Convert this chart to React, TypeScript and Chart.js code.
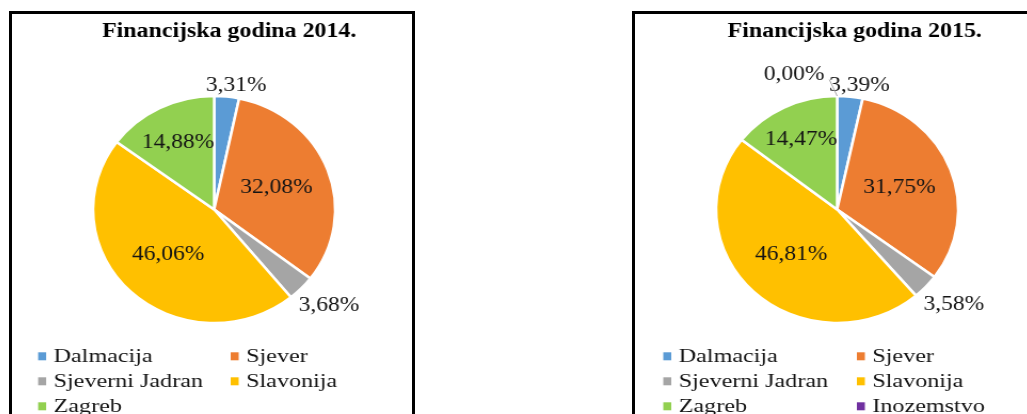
import React, { useEffect, useRef } from "react";
import { Chart, registerables } from "chart.js";

Chart.register(...registerables);

// ---- data ----
const categories2014 = ["Dalmacija", "Sjever", "Sjeverni Jadran", "Slavonija", "Zagreb"];
const values2014 = [3.31, 32.08, 3.68, 46.06, 14.88];
const categories2015 = ["Dalmacija", "Sjever", "Sjeverni Jadran", "Slavonija", "Zagreb", "Inozemstvo"];
const values2015 = [3.39, 31.75, 3.58, 46.81, 14.47, 0.0];
const title2014 = "Financijska godina 2014.";
const title2015 = "Financijska godina 2015.";
const sliceColors = ["#5B9BD5", "#ED7D31", "#A5A5A5", "#FFC000", "#92D050", "#7030A0"];

const STRETCH = 400 / 375;
const SERIF = '"Liberation Serif", "Times New Roman", serif';

function fmt(v: number) {
  return v.toFixed(2).replace(".", ",") + "%";
}

function drawText(ctx: CanvasRenderingContext2D, text: string, x: number, y: number, font: string, sx: number, align: CanvasTextAlign, baseline: CanvasTextBaseline, color: string) {
  ctx.save();
  ctx.font = font;
  ctx.fillStyle = color;
  ctx.textAlign = align;
  ctx.textBaseline = baseline;
  ctx.translate(x, y);
  ctx.scale(sx, 1);
  ctx.fillText(text, 0, 0);
  ctx.restore();
}

const customPlugin = {
  id: "customDecor",
  afterDraw(chart: any) {
    const cfg = chart.options.plugins.customDecor;
    const ctx: CanvasRenderingContext2D = chart.ctx;
    // title
    drawText(ctx, cfg.title, cfg.titleX, 22.5, "bold 20px " + SERIF, 1.12, "center", "alphabetic", "#000");

    // data labels
    const meta = chart.getDatasetMeta(0);
    const data: number[] = chart.data.datasets[0].data;
    const labelFont = "20px " + SERIF;
    const lsx = 1.1;
    meta.data.forEach((arc: any, i: number) => {
      const p = arc.getProps(["x", "y", "startAngle", "endAngle", "outerRadius"], true);
      const mid = (p.startAngle + p.endAngle) / 2;
      const dx = Math.cos(mid);
      const dy = Math.sin(mid);
      const text = fmt(data[i]);
      ctx.font = labelFont;
      const w = ctx.measureText(text).width * lsx;
      const r = p.outerRadius;
      const span = p.endAngle - p.startAngle;
      const color = "#141414";
      if (data[i] === 0) {
        const px = p.x + dx * r;
        const py = p.y + dy * r;
        const la = mid - (24 * Math.PI) / 180;
        const qx = px + Math.cos(la) * 18;
        const qy = py + Math.sin(la) * 18;
        ctx.save();
        ctx.strokeStyle = "#a6a6a6";
        ctx.lineWidth = 1;
        ctx.beginPath();
        ctx.moveTo(px, py);
        ctx.lineTo(qx, qy);
        ctx.stroke();
        ctx.restore();
        drawText(ctx, text, qx - 4.5, qy - 5, labelFont, lsx, "right", "middle", color);
      } else if (data[i] < 5) {
        const D = r + 12;
        const cx = p.x + dx * D + dx * w * 0.28 + 6;
        const cy = p.y + dy * (D + 5) + 6;
        drawText(ctx, text, cx, cy, labelFont, lsx, "center", "middle", color);
      } else {
        const d = Math.min(Math.max(0.55 * r, w / (2 * Math.sin(Math.min(span, Math.PI) / 2))), r - 20);
        drawText(ctx, text, p.x + dx * d, p.y + dy * d, labelFont, lsx, "center", "middle", color);
      }
    });

    // legend (two columns)
    const labels: string[] = chart.data.labels;
    const colors: string[] = chart.data.datasets[0].backgroundColor;
    const rowBaselines = [348, 373, 398];
    labels.forEach((lab, i) => {
      const row = Math.floor(i / 2);
      const col = i % 2;
      const mx = cfg.legendX[col];
      const base = rowBaselines[row];
      ctx.save();
      ctx.fillStyle = colors[i];
      ctx.fillRect(mx, base - 9.7, 7.5, 8);
      ctx.restore();
      drawText(ctx, lab, mx + 14.5, base, "19px " + SERIF, 1.19, "left", "alphabetic", "#141414");
    });
  },
};

function PiePanel(props: { labels: string[]; values: number[]; title: string; titleX: number; legendX: number[]; left: number }) {
  const ref = useRef<HTMLCanvasElement | null>(null);
  useEffect(() => {
    if (!ref.current) return;
    const chart = new Chart(ref.current, {
      type: "pie",
      data: {
        labels: props.labels,
        datasets: [
          {
            data: props.values,
            backgroundColor: sliceColors.slice(0, props.values.length),
            borderColor: "#ffffff",
            borderWidth: 2.5,
          },
        ],
      },
      options: {
        responsive: false,
        animation: false,
        radius: 113.5,
        layout: { padding: { left: 4, right: 0, top: 80, bottom: 89 } },
        plugins: {
          legend: { display: false },
          title: { display: false },
          tooltip: { enabled: false },
          customDecor: { title: props.title, titleX: props.titleX, legendX: props.legendX },
        } as any,
      } as any,
      plugins: [customPlugin],
    });
    return () => chart.destroy();
  }, []);
  return (
    <div
      style={{
        position: "absolute",
        left: props.left,
        top: 11,
        width: 400,
        height: 440,
        border: "3px solid #000",
        background: "#fff",
        overflow: "hidden",
      }}
    >
      <div style={{ transform: `scaleX(${STRETCH})`, transformOrigin: "0 0", width: 375, height: 400 }}>
        <canvas ref={ref} width={375} height={400} style={{ display: "block" }} />
      </div>
    </div>
  );
}

export default function App() {
  return (
    <div
      style={{
        position: "fixed",
        left: 0,
        top: 0,
        width: 1027,
        height: 414,
        overflow: "hidden",
        background: "#fff",
      }}
    >
      <PiePanel labels={categories2014} values={values2014} title={title2014} titleX={203.6} legendX={[24.5, 205]} left={9} />
      <PiePanel labels={categories2015} values={values2015} title={title2015} titleX={206} legendX={[26.5, 208]} left={632} />
    </div>
  );
}
